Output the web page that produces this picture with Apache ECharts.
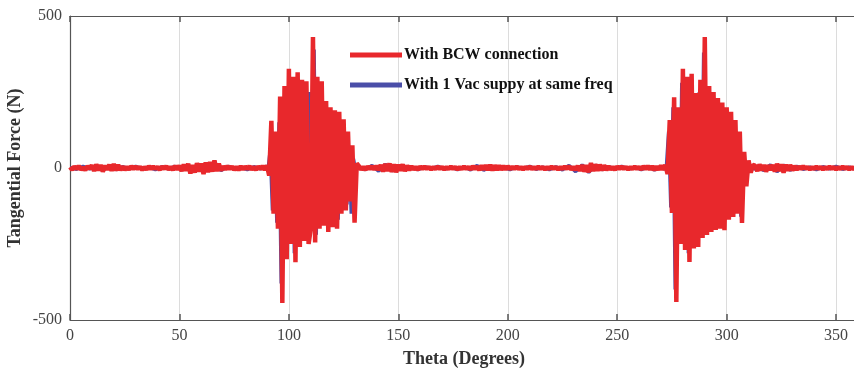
<!DOCTYPE html>
<html>
<head>
<meta charset="utf-8">
<script src="https://cdn.jsdelivr.net/npm/echarts@6/dist/echarts.min.js"></script>
<style>html,body{margin:0;padding:0;background:#fff}#c{width:854px;height:375px}</style>
</head>
<body>
<div id="c"></div>
<script>
// Axis ticks
const xTicks = [0, 50, 100, 150, 200, 250, 300, 350];
const yTicks = [-500, 0, 500];
const seriesNames = ['With BCW connection', 'With 1 Vac suppy at same freq'];

// Red series (With BCW connection), sampled every 1 degree
const redNoiseA = [ // theta 0..90
  3,-6,5,-4,7,-5,2,-7,6,-3,
  9,-10,12,-8,10,-12,8,-6,11,-9,
  13,-8,10,-7,5,-6,4,-5,6,-4,
  5,-3,4,-6,3,-5,6,-4,5,-3,
  4,-6,5,-3,6,-5,4,-6,7,-5,
  8,-10,12,-9,14,-18,10,-15,16,-12,
  15,-20,18,-14,20,-12,25,-10,14,-8,
  6,-5,7,-4,5,-6,4,-7,6,-5,
  5,-4,6,-5,4,-6,5,-4,7,-6,
  8];
const redBurst1 = [ // theta 91..131
  -25,155,-150,120,-200,235,-444,270,-300,326,
  -250,300,-310,315,-260,290,-240,285,-250,-200,
  431,-245,300,-200,285,-190,220,-210,200,-195,
  190,-200,185,-150,160,-140,120,-110,75,-180,
  15];
const redNoiseB = [ // theta 132..272
  6,-5,4,-6,5,-4,6,-5,7,-6,
  10,-12,14,-10,15,-13,12,-14,11,-9,
  12,-10,8,-7,6,-5,4,-6,5,-4,
  5,-3,4,-5,3,-4,5,-3,4,-5,
  3,-4,5,-3,4,-5,3,-4,5,-3,
  4,-5,6,-4,5,-7,8,-6,9,-7,
  10,-8,9,-7,8,-6,7,-5,6,-4,
  4,-3,5,-4,3,-5,4,-3,5,-4,
  3,-4,5,-3,4,-5,3,-4,5,-3,
  4,-5,3,-4,5,-3,6,-5,4,-6,
  7,-9,10,-12,9,-14,16,-10,12,-9,
  11,-8,9,-7,6,-5,4,-6,5,-4,
  5,-3,4,-5,3,-4,5,-3,4,-5,
  6,-4,7,-5,6,-7,5,-6,8,-6,
  10];
const redBurst2 = [ // theta 273..312
  -20,158,-148,233,-441,200,-250,326,-270,300,
  -309,310,-265,247,-260,290,-230,431,-220,270,
  -210,250,-204,230,-200,215,-205,200,-170,185,
  -161,158,-150,120,-181,53,-60,25,-15,10];
const redNoiseC = [ // theta 313..360
  8,-10,12,-8,10,-12,9,-7,10,-12,
  14,-10,12,-15,11,-9,10,-8,7,-6,
  5,-4,6,-3,4,-5,3,-4,5,-3,
  4,-5,3,-4,5,-3,4,-5,3,-4,
  5,-3,4,-5,3,-4,5,-3];

// Blue series (With 1 Vac suppy at same freq)
const blueNoiseA = [ // theta 0..90 every 3 deg
  2,-4,5,-3,6,-8,7,-5,4,-3,
  5,-4,3,-5,4,-3,5,-6,8,-10,
  12,-9,14,-8,5,-4,3,-5,4,-3,
  5];
const blueBurst1 = [ // theta 90.5..130.5 every 1 deg
  -5,60,-140,100,-180,150,-380,200,-280,250,-220,
  260,-280,240,-230,200,-210,230,-200,250,-150,
  390,-220,250,-180,200,-170,180,-190,170,-180,
  150,-170,140,-130,110,-120,70,-150,30,-10];
const blueNoiseB = [ // theta 132..270 every 3 deg
  4,-5,8,-10,12,-9,6,-4,3,-5,
  4,-3,5,-4,3,-5,4,-6,8,-7,
  6,-4,3,-5,4,-3,5,-4,3,-5,
  4,-6,8,-12,10,-14,9,-5,4,-3,
  5,-4,3,-5,4,-6,5];
const blueBurst2 = [ // theta 271.5..312.5 every 1 deg
  -4,6,120,-130,200,-400,180,-220,280,-240,260,-280,
  270,-230,220,-230,250,-200,380,-190,240,-190,
  220,-180,200,-180,190,-185,180,-150,160,-140,
  130,-130,100,-160,40,-50,20,-12,8,-5];
const blueNoiseC = [ // theta 314..359 every 3 deg
  6,-8,10,-12,9,-7,5,-4,3,-5,4,-3,5,-4,3,-4];

function seg(start, step, vals) {
  return vals.map((v, i) => [start + i * step, v]);
}
const redData = [].concat(
  seg(0, 1, redNoiseA), seg(91, 1, redBurst1), seg(132, 1, redNoiseB),
  seg(273, 1, redBurst2), seg(313, 1, redNoiseC));
const blueData = [].concat(
  seg(0, 3, blueNoiseA), seg(90.5, 1, blueBurst1), seg(132, 3, blueNoiseB),
  seg(271.5, 1, blueBurst2), seg(314, 3, blueNoiseC));

const FONT = '"Liberation Serif", "Times New Roman", serif';
const chart = echarts.init(document.getElementById('c'), null, {renderer: 'canvas'});
const xCommon = {
  type: 'value', min: 0, max: 360, interval: 50,
  axisLine: {show: true, onZero: false, lineStyle: {color: '#555', width: 1.2}},
  axisTick: {show: true, inside: true, length: 6, lineStyle: {color: '#555', width: 1.5}}
};
chart.setOption({
  animation: false,
  backgroundColor: '#fff',
  grid: {left: 70, top: 16, width: 788, height: 304, show: false, containLabel: false, outerBoundsMode: 'none'},
  legend: {
    orient: 'vertical', left: 345, top: 42, itemWidth: 52, itemHeight: 5, itemGap: 14,
    icon: 'rect',
    data: seriesNames,
    textStyle: {fontFamily: FONT, fontWeight: 'bold', fontSize: 16, color: '#111', padding: [0, 0, 0, -3]}
  },
  xAxis: [
    Object.assign({}, xCommon, {
      position: 'bottom',
      name: 'Theta (Degrees)', nameLocation: 'middle', nameGap: 30,
      nameTextStyle: {fontFamily: FONT, fontWeight: 'bold', fontSize: 18, color: '#333'},
      axisLabel: {fontFamily: FONT, fontSize: 16, color: '#444', margin: 8,
        formatter: v => String(v)},
      splitLine: {show: true, lineStyle: {color: '#dcdcdc', width: 1}}
    }),
    Object.assign({}, xCommon, {
      position: 'top', axisLabel: {show: false}, splitLine: {show: false}
    })
  ],
  yAxis: {
    type: 'value', min: -500, max: 500, interval: 500,
    name: 'Tangential Force (N)', nameLocation: 'middle', nameGap: 46, nameMoveOverlap: false,
    nameTextStyle: {fontFamily: FONT, fontWeight: 'bold', fontSize: 18, color: '#333'},
    axisLine: {show: true, onZero: false, lineStyle: {color: '#555', width: 1.2}},
    axisTick: {show: false},
    axisLabel: {fontFamily: FONT, fontSize: 16, color: '#444', margin: 8,
      formatter: v => yTicks.includes(v) ? String(v) : ''},
    splitLine: {show: false}
  },
  series: [
    {
      name: seriesNames[0], type: 'line', data: redData, showSymbol: false,
      color: '#e8282c', lineStyle: {width: 4.5, color: '#e8282c'}, z: 3,
      clip: true
    },
    {
      name: seriesNames[1], type: 'line', data: blueData, showSymbol: false,
      color: '#4a4ea8', lineStyle: {width: 3.5, color: '#4a4ea8'}, z: 2,
      clip: true
    }
  ]
});
</script>
</body>
</html>
